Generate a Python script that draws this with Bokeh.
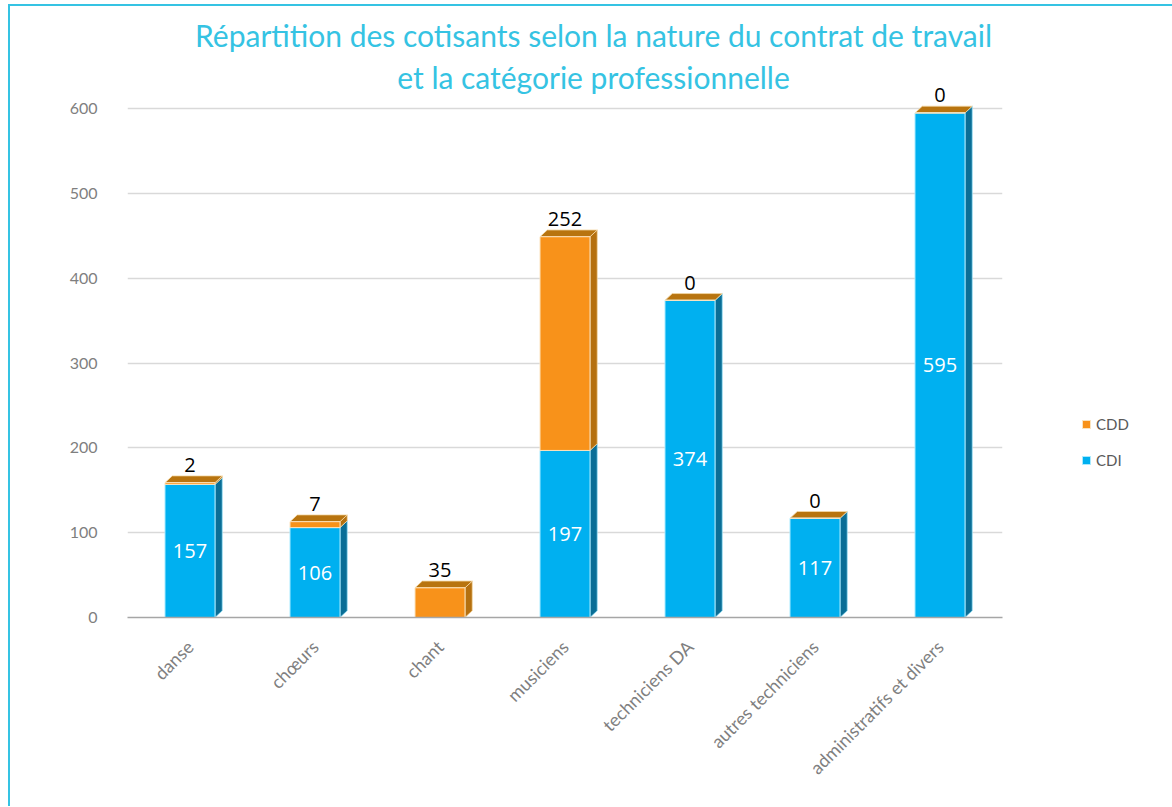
import numpy as np
from bokeh.plotting import figure
from bokeh.models import (ColumnDataSource, FixedTicker, Legend, LegendItem,
                          Label, Range1d, LabelSet)
from bokeh.embed import file_html
from bokeh.resources import INLINE
from bokeh.core.properties import value

# ---------------- data ----------------
categories = ["danse", "chœurs", "chant", "musiciens", "techniciens DA",
              "autres techniciens", "administratifs et divers"]
cdi = [157, 106, 0, 197, 374, 117, 595]
cdd = [2, 7, 35, 252, 0, 0, 0]
y_ticks = [0, 100, 200, 300, 400, 500, 600]
series = ["CDD", "CDI"]
title_lines = ["Répartition des cotisants selon la nature du contrat de travail",
               "et la catégorie professionnelle"]

# ---------------- style ----------------
BLUE = "#00B0F0"
BLUE_SIDE = "#0A6E96"
ORANGE = "#F8921A"
ORANGE_SIDE = "#B5700F"
TOP = "#B8740F"
CYAN = "#35C3E3"
FONT = "Lato"

W = 0.40      # bar width (category units)
DX = 0.058    # 3D depth, x (category units)
DY = 8.0      # 3D depth, y (value units)

x = np.arange(len(categories))
cdi_a = np.array(cdi, dtype=float)
cdd_a = np.array(cdd, dtype=float)
tot = cdi_a + cdd_a

FRAME_H = 603
p = figure(frame_width=875, frame_height=FRAME_H,
           x_range=Range1d(-0.5, len(categories) - 0.5),
           y_range=Range1d(0, FRAME_H / 0.848),
           output_backend="svg", toolbar_location=None,
           min_border_left=117, min_border_right=168,
           min_border_top=8, min_border_bottom=189,
           background_fill_color="white", border_fill_color="white",
           outline_line_color=None)
p.styles = {"border-left": f"2px solid {CYAN}", "border-top": f"2px solid {CYAN}",
            "margin-left": "8px", "margin-top": "4px"}

# titles (two centred lines, placed in screen units relative to the frame)
for txt, yy in zip(title_lines, [583, 541]):
    p.add_layout(Label(x=466, y=yy, x_units="screen", y_units="screen", text=txt,
                       text_align="center", text_baseline="middle",
                       text_font=FONT, text_font_size="30px",
                       text_color=CYAN))

# ---------------- 3D side and top faces ----------------
xr = x + W / 2
xl = x - W / 2
side_b_xs, side_b_ys = [], []
side_o_xs, side_o_ys = [], []
for i in range(len(categories)):
    if cdi_a[i] > 0:
        side_b_xs.append([xr[i], xr[i] + DX, xr[i] + DX, xr[i]])
        side_b_ys.append([0, DY, cdi_a[i] + DY, cdi_a[i]])
    if cdd_a[i] > 0:
        side_o_xs.append([xr[i], xr[i] + DX, xr[i] + DX, xr[i]])
        side_o_ys.append([cdi_a[i], cdi_a[i] + DY, tot[i] + DY, tot[i]])
top_xs = [[xl[i], xl[i] + DX, xr[i] + DX, xr[i]] for i in range(len(categories))]
top_ys = [[tot[i], tot[i] + DY, tot[i] + DY, tot[i]] for i in range(len(categories))]

p.patches(side_b_xs, side_b_ys, fill_color=BLUE_SIDE, line_color="#9FE3F8", line_width=0.8)
p.patches(side_o_xs, side_o_ys, fill_color=ORANGE_SIDE, line_color="#F5D9A8", line_width=0.8)
p.patches(top_xs, top_ys, fill_color=TOP, line_color="#F5D9A8", line_width=0.8)

# ---------------- front faces ----------------
src = ColumnDataSource(dict(x=x, cdi=cdi_a, cdd=cdd_a, tot=tot,
                            mid=cdi_a / 2,
                            cdi_lbl=[str(v) if v > 0 else "" for v in cdi],
                            cdd_lbl=[str(v) for v in cdd],
                            lbl_y=tot + DY))
r_cdi = p.vbar(x="x", bottom=0, top="cdi", width=W, source=src,
               fill_color=BLUE, line_color="#A8EAFF", line_width=1)
r_cdd = p.vbar(x="x", bottom="cdi", top="tot", width=W, source=src,
               fill_color=ORANGE, line_color="#FBE3BE", line_width=1)

# value labels
p.add_layout(LabelSet(x="x", y="mid", text="cdi_lbl", source=src,
                      text_align="center", text_baseline="middle",
                      text_color="white", text_font=value("Open Sans"),
                      text_font_size="20px"))
p.add_layout(LabelSet(x="x", y="lbl_y", text="cdd_lbl", source=src,
                      text_align="center", text_baseline="bottom", y_offset=4,
                      text_color="black", text_font=value("Open Sans"),
                      text_font_size="20px"))

# ---------------- axes & grid ----------------
p.xgrid.grid_line_color = None
p.ygrid.grid_line_color = "#D9D9D9"
p.ygrid.grid_line_width = 1.5
p.ygrid.ticker = FixedTicker(ticks=y_ticks)

p.yaxis.ticker = FixedTicker(ticks=y_ticks)
p.yaxis.axis_line_color = None
p.yaxis.major_tick_line_color = None
p.yaxis.minor_tick_line_color = None
p.yaxis.major_label_text_color = "#7F7F7F"
p.yaxis.major_label_text_font = FONT
p.yaxis.major_label_text_font_size = "16px"
p.yaxis.major_label_standoff = 24

p.xaxis.ticker = FixedTicker(ticks=list(range(len(categories))))
p.xaxis.major_label_overrides = {i: c for i, c in enumerate(categories)}
p.xaxis.major_label_orientation = np.pi / 4
p.xaxis.axis_line_color = "#A6A6A6"
p.xaxis.axis_line_width = 1.5
p.xaxis.major_tick_line_color = None
p.xaxis.minor_tick_line_color = None
p.xaxis.major_label_text_color = "#7F7F7F"
p.xaxis.major_label_text_font = FONT
p.xaxis.major_label_text_font_size = "18px"
p.xaxis.major_label_standoff = 20

# ---------------- legend ----------------
legend = Legend(items=[LegendItem(label=series[0], renderers=[r_cdd]),
                       LegendItem(label=series[1], renderers=[r_cdi])],
                location=(79, 148), border_line_color=None,
                background_fill_alpha=0,
                glyph_width=10, glyph_height=10, spacing=18,
                label_text_font=FONT, label_text_font_size="15px",
                label_text_color="#595959", label_standoff=5)
p.add_layout(legend, "right")

open("out.html", "w").write(file_html(p, INLINE))
